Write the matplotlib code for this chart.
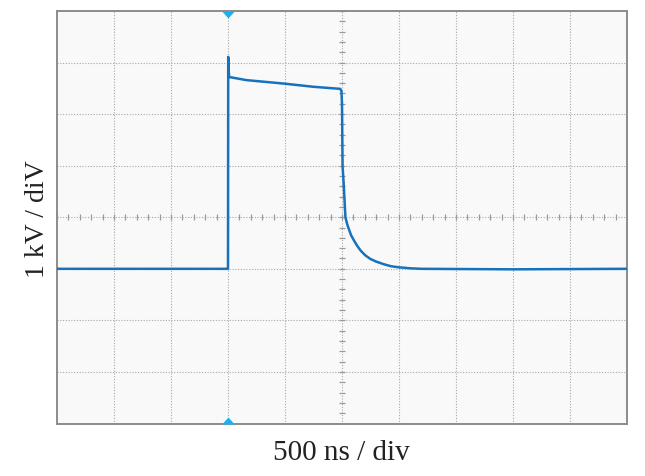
import numpy as np
import matplotlib
matplotlib.use("Agg")
from matplotlib import pyplot as plt

# scope settings
ns_per_div = 500
kv_per_div = 1
n_xdiv = 10
n_ydiv = 8
trigger_ns = 1500

# trace (time in ns, voltage in kV relative to screen centre)
time_ns = [0, 1000, 1495, 1500, 1502, 1505, 1510, 1660, 2000, 2250, 2485,
           2495, 2500, 2505, 2515, 2530, 2545, 2560, 2580, 2605, 2635, 2665,
           2705, 2750, 2800, 2865, 2930, 2995, 3100, 3200, 4000, 5000]
volt_kv = [-1.0, -1.0, -1.0, -1.0, 3.11, 2.88, 2.72, 2.66, 2.59, 2.53, 2.49,
           2.45, 2.2, 0.99, 0.64, 0.0, -0.13, -0.23, -0.35, -0.45, -0.56, -0.65,
           -0.74, -0.81, -0.86, -0.91, -0.95, -0.97, -0.99, -1.0, -1.01, -1.0]

fig = plt.figure(figsize=(6.45, 4.77), dpi=100)
ax = fig.add_axes([57 / 645, 52.5 / 477, 570 / 645, 412.5 / 477])
ax.set_facecolor('#f9f9f9')

x_max = n_xdiv * ns_per_div
y_half = n_ydiv / 2 * kv_per_div
ax.set_xlim(0, x_max)
ax.set_ylim(-y_half, y_half)

grid_kw = dict(color='#a8a8a8', linestyle=(0, (1, 1.5)), linewidth=0.8, zorder=1)
for i in range(1, n_xdiv):
    ax.axvline(i * ns_per_div, **grid_kw)
for j in range(1, n_ydiv):
    ax.axhline(-y_half + j * kv_per_div, **grid_kw)

# minor ticks on the centre cross
minor_x = np.arange(0, x_max + 1, ns_per_div / 5)
minor_y = np.arange(-y_half, y_half + 0.01, kv_per_div / 5)
ax.plot(minor_x, np.zeros_like(minor_x), linestyle='none', marker='|',
        markersize=4.5, color='#9a9a9a', markeredgewidth=0.9, zorder=1)
ax.plot(np.full_like(minor_y, x_max / 2), minor_y, linestyle='none', marker='_',
        markersize=4.5, color='#9a9a9a', markeredgewidth=0.9, zorder=1)

ax.plot(time_ns, volt_kv, color='#1672bd', linewidth=1.8, zorder=3)

# trigger markers, hanging inside the frame
down_tri = [(-1, 0), (1, 0), (0, -1.1)]
up_tri = [(-1, 0), (1, 0), (0, 1.1)]
ax.plot([trigger_ns], [y_half], marker=down_tri, markersize=10, color='#1ab2ee',
        markeredgewidth=0, clip_on=False, zorder=5)
ax.plot([trigger_ns], [-y_half], marker=up_tri, markersize=10, color='#1ab2ee',
        markeredgewidth=0, clip_on=False, zorder=5)

ax.set_xticks([])
ax.set_yticks([])
for sp in ax.spines.values():
    sp.set_color('#8c8c8c')
    sp.set_linewidth(1.4)

fig.text(341 / 645, 1 - 453 / 477, f"{ns_per_div} ns / div", ha='center', va='center',
         fontsize=21, family='Liberation Serif', color='#222222')
fig.text(37 / 645, 1 - 219 / 477, f"{kv_per_div} kV / diV", ha='center', va='center',
         rotation=90, fontsize=20, family='Liberation Serif', color='#222222')

plt.savefig("out.png", dpi=100)
plt.close()
